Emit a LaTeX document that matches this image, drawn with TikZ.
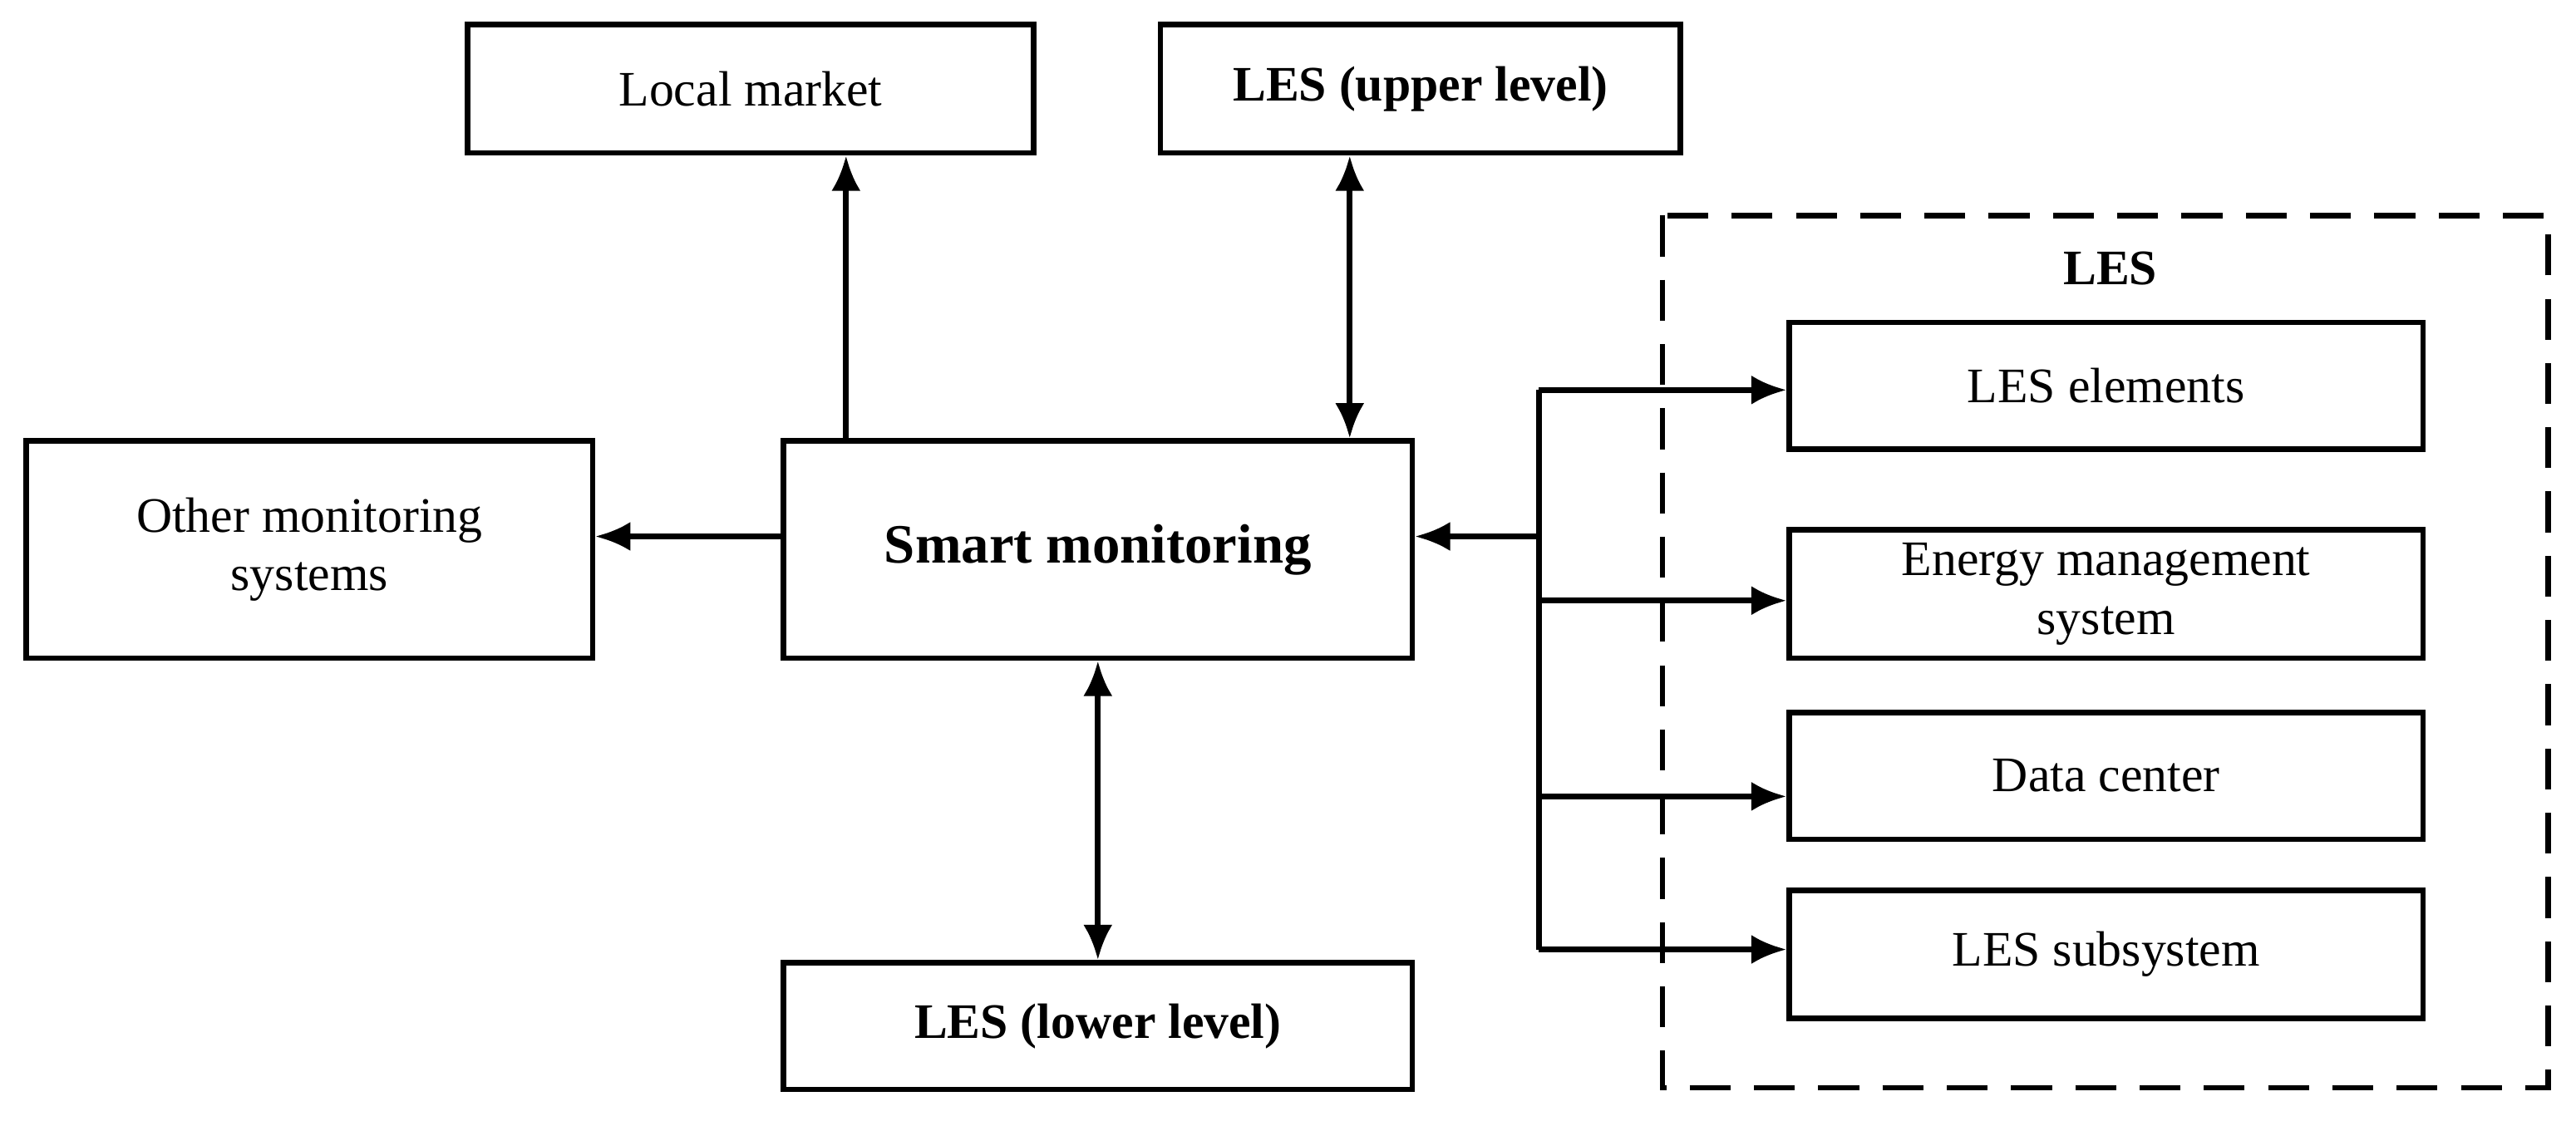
\documentclass[tikz,border=0pt]{standalone}
\usepackage{fontspec}
\setmainfont{Liberation Serif}
\usetikzlibrary{arrows.meta}
\begin{document}
\begin{tikzpicture}[x=0.0198cm,y=-0.0198cm,
  box/.style={draw,line width=1.9pt,inner sep=0pt,align=center,font=\fontsize{17}{20}\selectfont},
  arr/.style={line width=1.9pt,-{Latex[length=12pt,width=10pt]}},
  darr/.style={line width=1.9pt,{Latex[length=12pt,width=10pt]}-{Latex[length=12pt,width=10pt]}}]
\useasboundingbox (0,0) rectangle (1565,681);
\newcommand\bx[6]{\node[box,minimum width={(#4-#2)*0.0198cm},minimum height={(#5-#3)*0.0198cm}] (#1) at ({(#2+#4)/2},{(#3+#5)/2}) {#6};}
\bx{lm}{284}{15}{628}{93}{Local market}
\bx{up}{705}{15}{1021}{93}{\textbf{LES (upper level)}}
\bx{om}{16}{268}{360}{400}{Other monitoring\\systems}
\bx{sm}{476}{268}{858}{400}{\fontsize{19}{22}\selectfont\textbf{Smart monitoring}}
\bx{lo}{476}{585}{858}{662}{\textbf{LES (lower level)}}
\draw[line width=1.9pt,dash pattern=on 14pt off 8pt] (1010,131) rectangle (1548,661);
\node[font=\fontsize{17}{20}\selectfont\bfseries] (les) at (1282,163) {LES};
\bx{e1}{1087}{196}{1472}{273}{LES elements}
\bx{e2}{1087}{322}{1472}{400}{Energy management\\system}
\bx{e3}{1087}{433}{1472}{510}{Data center}
\bx{e4}{1087}{541}{1472}{619}{LES subsystem}
\draw[arr] (sm.north -| 514,0) -- (lm.south -| 514,0);
\draw[darr] (sm.north -| 820,0) -- (up.south -| 820,0);
\draw[arr] (om.east |- 0,326) ++(115,0) coordinate (oa) (sm.west |- 0,326) -- (om.east |- 0,326);
\draw[darr] (sm.south -| 667,0) -- (lo.north -| 667,0);
\coordinate (b1) at (935,237);
\coordinate (b4) at (935,577);
\coordinate (bm) at (935,326);
\draw[line width=1.9pt] (b1) -- (b4);
\draw[arr] (bm) -- (sm.east |- bm);
\draw[arr] (b1) -- (e1.west |- b1);
\draw[arr] (935,365) -- (e2.west |- 0,365);
\draw[arr] (935,484) -- (e3.west |- 0,484);
\draw[arr] (b4) -- (e4.west |- b4);
\end{tikzpicture}
\end{document}
